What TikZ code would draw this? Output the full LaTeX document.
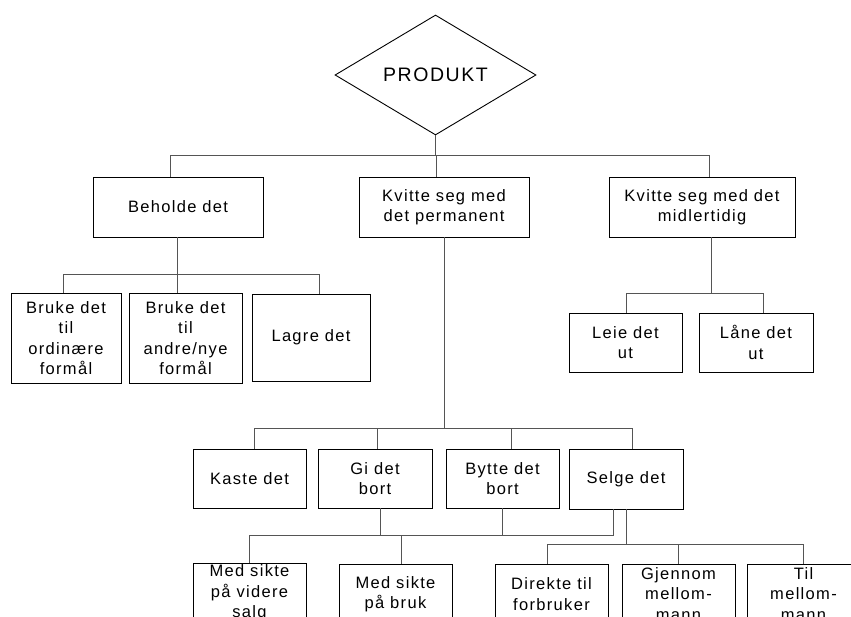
\documentclass[tikz,border=0pt]{standalone}
\usepackage{fontspec}
\setmainfont{Liberation Sans}[LetterSpace=8]
\usetikzlibrary{shapes.geometric}
\definecolor{conncol}{HTML}{555555}
\tikzset{
  box/.style={draw=black, line width=0.9pt, inner sep=0pt, align=center,
    font=\fontsize{16.5}{20.5}\selectfont},
  conn/.style={draw=conncol, line width=0.9pt},
}
\begin{document}
\begin{tikzpicture}[x=1pt,y=-1pt]
\useasboundingbox (0,0) rectangle (851,617);
\clip (0,0) rectangle (851,617);
% top
\node[draw=black, line width=0.9pt, shape=diamond, minimum width=201pt, minimum height=120pt, inner sep=0pt, font=\fontsize{19.5}{24}\selectfont] (prod) at (435.5,75) {PRODUKT};
% level 1
\node[box, minimum width=170pt, minimum height=60pt] (behold) at (178,207) {Beholde det};
\node[box, minimum width=170pt, minimum height=60pt] (perm) at (444,207) {Kvitte seg med\\det permanent};
\node[box, minimum width=186pt, minimum height=60pt] (midl) at (702,207) {Kvitte seg med det\\midlertidig};
% behold children
\node[box, minimum width=110pt, minimum height=90pt] (b1) at (66,338) {Bruke det\\til\\ordinære\\formål};
\node[box, minimum width=113pt, minimum height=90pt] (b2) at (185.5,338) {Bruke det\\til\\andre/nye\\formål};
\node[box, minimum width=118pt, minimum height=87pt] (b3) at (311,337.5) {Lagre det};
% midl children
\node[box, minimum width=113pt, minimum height=59pt] (leie) at (625.5,342.5) {Leie det\\ut};
\node[box, minimum width=114pt, minimum height=59pt] (laane) at (756,342.5) {Låne det\\ut};
% perm children
\node[box, minimum width=113pt, minimum height=59pt] (kaste) at (249.5,478.5) {Kaste det};
\node[box, minimum width=114pt, minimum height=59pt] (gi) at (375,478.5) {Gi det\\bort};
\node[box, minimum width=113pt, minimum height=59pt] (bytte) at (502.5,478.5) {Bytte det\\bort};
\node[box, minimum width=114pt, minimum height=60pt] (selge) at (626,479) {Selge det};
% bottom row
\node[box, minimum width=113pt, minimum height=60pt] (ms1) at (249.5,593) {Med sikte\\på videre\\salg};
\node[box, minimum width=113pt, minimum height=60pt] (ms2) at (395.5,594) {Med sikte\\på bruk};
\node[box, minimum width=113pt, minimum height=60pt] (dir) at (551.5,594) {Direkte til\\forbruker};
\node[box, minimum width=113pt, minimum height=60pt] (gjen) at (678.5,594) {Gjennom\\mellom-\\mann};
\node[box, minimum width=113pt, minimum height=60pt] (til) at (803.5,594) {Til\\mellom-\\mann};
% bus coordinates
\coordinate (t3) at (709,155);
\coordinate (bB1) at (63,274);
\coordinate (bB3) at (319,274);
\coordinate (mB1) at (626,293);
\coordinate (mB2) at (763,293);
\coordinate (pB1) at (254,428);
\coordinate (pB4) at (632,428);
\coordinate (gB) at (0,535);
\coordinate (sB) at (0,544);
% connectors level 1
\draw[conn] (prod.south) -- (prod.south |- t3);
\draw[conn] ([xshift=-8pt]behold.north) |- (t3) -- (t3 |- midl.north);
\draw[conn] ([xshift=-8pt]perm.north) -- ([xshift=-8pt]perm.north |- t3);
% behold children
\draw[conn] ([xshift=-1pt]behold.south) -- ([xshift=-1pt]behold.south |- b2.north);
\draw[conn] (bB1 |- b1.north) -- (bB1) -- (bB3) -- (bB3 |- b3.north);
% midl children
\draw[conn] ([xshift=9pt]midl.south) -- ([xshift=9pt]midl.south |- mB1);
\draw[conn] (mB1 |- leie.north) -- (mB1) -- (mB2) -- (mB2 |- laane.north);
% perm children
\draw[conn] (perm.south) -- (perm.south |- pB1);
\draw[conn] (pB1 |- kaste.north) -- (pB1) -- (pB4) -- (pB4 |- selge.north);
\draw[conn] ([xshift=2pt]gi.north) -- ([xshift=2pt]gi.north |- pB1);
\draw[conn] ([xshift=8.5pt]bytte.north) -- ([xshift=8.5pt]bytte.north |- pB1);
% gi / bytte / selge to bottom-left
\draw[conn] ([xshift=-13pt]selge.south) |- (ms1.north |- gB) -- (ms1.north);
\draw[conn] ([xshift=5pt]gi.south) -- ([xshift=5pt]gi.south |- gB);
\draw[conn] (bytte.south) -- (bytte.south |- gB);
\draw[conn] ([xshift=5.5pt]ms2.north) -- ([xshift=5.5pt]ms2.north |- gB);
% selge to bottom-right
\draw[conn] (selge.south) -- (selge.south |- sB);
\draw[conn] ([xshift=-4.5pt]dir.north) |- (til.north |- sB) -- (til.north);
\draw[conn] (gjen.north) -- (gjen.north |- sB);
\end{tikzpicture}
\end{document}
